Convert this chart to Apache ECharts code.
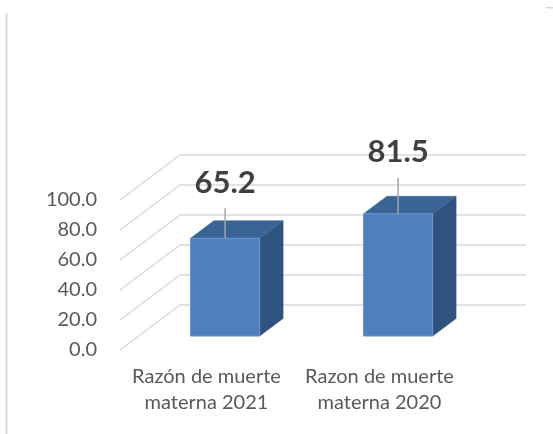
<!DOCTYPE html>
<html>
<head>
<meta charset="utf-8">
<script src="https://cdn.jsdelivr.net/npm/echarts@6/dist/echarts.min.js"></script>
<style>
  html, body { margin: 0; padding: 0; background: #ffffff; }
  #chart { width: 553px; height: 434px; }
</style>
</head>
<body>
<div id="chart"></div>
<script>
// Maternal mortality ratio, 2021 vs 2020
const categories = ['Razón de muerte\nmaterna 2021', 'Razon de muerte\nmaterna 2020'];
const values = [65.2, 81.5];
const yTicks = [0, 20, 40, 60, 80, 100];

// Oblique projection of the depth axis (pixels from front plane to back wall)
const DEPTH_X = 60;
const DEPTH_Y = 45;
// Bar slab position inside the depth (fractions of the full depth)
const BAR_FRONT = 0.31;
const BAR_BACK = 0.70;
const BAR_WIDTH_RATIO = 0.4;
// Leader line length above each bar
const LEADER = [30, 36];

const FRONT_COLOR = '#4f80bd';
const SIDE_COLOR = '#30527f';
const TOP_COLOR = '#3b6496';
const EDGE_COLOR = '#6d98cd';
const WALL_COLOR = '#d9d9d9';

const chart = echarts.init(document.getElementById('chart'), null, { renderer: 'canvas' });

function renderWall(params, api) {
  const cs = params.coordSys;
  const y = api.coord([0, api.value(1)])[1];
  const left = cs.x;
  const right = cs.x + cs.width;
  const style = { stroke: WALL_COLOR, lineWidth: 1.5, fill: null };
  return {
    type: 'group',
    children: [
      { type: 'line', shape: { x1: left, y1: y, x2: left + DEPTH_X, y2: y - DEPTH_Y }, style: style },
      { type: 'line', shape: { x1: left + DEPTH_X, y1: y - DEPTH_Y, x2: right + DEPTH_X, y2: y - DEPTH_Y }, style: style }
    ]
  };
}

function renderBar(params, api) {
  const idx = api.value(0);
  const val = api.value(1);
  const base = api.coord([idx, 0]);
  const top = api.coord([idx, val]);
  const band = api.size([1, 0])[0];
  const w = band * BAR_WIDTH_RATIO;
  const fx = DEPTH_X * BAR_FRONT, fy = DEPTH_Y * BAR_FRONT;
  const ddx = DEPTH_X * (BAR_BACK - BAR_FRONT);
  const ddy = DEPTH_Y * (BAR_BACK - BAR_FRONT);
  const xl = base[0] - w / 2 + fx;
  const xr = base[0] + w / 2 + fx;
  const yb = base[1] - fy;
  const yt = top[1] - fy;
  const cx = (xl + xr) / 2;
  const lead = LEADER[params.dataIndex];
  return {
    type: 'group',
    children: [
      {
        type: 'polygon',
        shape: { points: [[xr, yt], [xr + ddx, yt - ddy], [xr + ddx, yb - ddy], [xr, yb]] },
        style: { fill: SIDE_COLOR, stroke: SIDE_COLOR, lineWidth: 0.5 }
      },
      {
        type: 'polygon',
        shape: { points: [[xl, yt], [xr, yt], [xr + ddx, yt - ddy], [xl + ddx, yt - ddy]] },
        style: { fill: TOP_COLOR, stroke: TOP_COLOR, lineWidth: 0.5 }
      },
      {
        type: 'rect',
        shape: { x: xl, y: yt, width: w, height: yb - yt },
        style: { fill: FRONT_COLOR, stroke: EDGE_COLOR, lineWidth: 1 }
      },
      {
        type: 'line',
        shape: { x1: cx, y1: yt, x2: cx, y2: yt - lead },
        style: { stroke: '#a6a6a6', lineWidth: 1.5 }
      },
      {
        type: 'text',
        style: {
          x: cx, y: yt - lead - 25.5,
          text: val.toFixed(1),
          fill: '#404040',
          font: 'bold 31px Lato',
          align: 'center',
          verticalAlign: 'middle'
        }
      }
    ]
  };
}

const option = {
  animation: false,
  grid: { left: 120, top: 200, width: 346, height: 150, containLabel: false },
  xAxis: {
    type: 'category',
    data: categories,
    axisLine: { show: false },
    axisTick: { show: false },
    splitLine: { show: false },
    axisLabel: {
      margin: 14,
      color: '#595959',
      fontFamily: 'Lato',
      fontSize: 20,
      lineHeight: 26,
      interval: 0
    }
  },
  yAxis: {
    type: 'value',
    min: 0,
    max: 100,
    interval: 20,
    axisLine: { show: false },
    axisTick: { show: false },
    splitLine: { show: false },
    axisLabel: {
      margin: 23,
      color: '#595959',
      fontFamily: 'Lato',
      fontSize: 20,
      formatter: function (v) { return v.toFixed(1); }
    }
  },
  graphic: [
    { type: 'rect', shape: { x: 5.5, y: 14, width: 2, height: 420 }, style: { fill: '#d9d9d9' } },
    { type: 'rect', shape: { x: 546, y: 7, width: 7, height: 1.5 }, style: { fill: '#d9d9d9' } }
  ],
  series: [
    {
      type: 'custom',
      renderItem: renderWall,
      data: yTicks.map(function (t) { return [0, t]; }),
      encode: { x: 0, y: 1 },
      silent: true,
      z: 1
    },
    {
      type: 'custom',
      renderItem: renderBar,
      data: values.map(function (v, i) { return [i, v]; }),
      encode: { x: 0, y: 1 },
      z: 2
    }
  ]
};

chart.setOption(option);
</script>
</body>
</html>
